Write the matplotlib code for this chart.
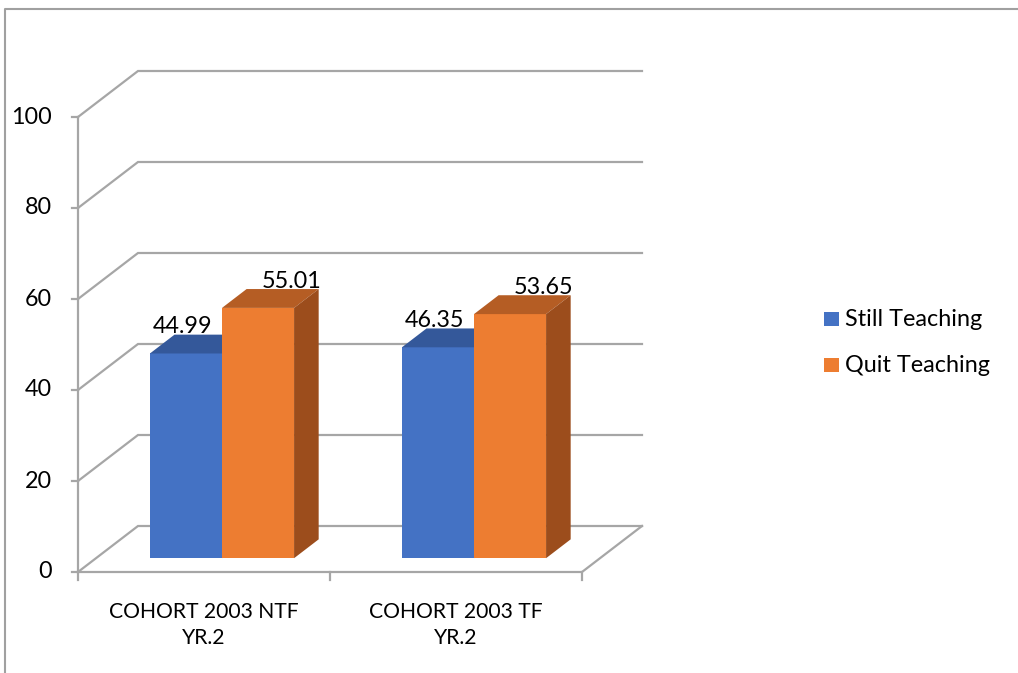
import matplotlib.pyplot as plt
from matplotlib.patches import Polygon, Rectangle

# data
categories = ['COHORT 2003 NTF\nYR.2', 'COHORT 2003 TF\nYR.2']
series = ['Still Teaching', 'Quit Teaching']
values = [[44.99, 46.35],   # Still Teaching
          [55.01, 53.65]]   # Quit Teaching
yticks = [0, 20, 40, 60, 80, 100]

front = ['#4472C4', '#ED7D31']
top = ['#34589A', '#B55D24']
side = ['#2E4F8A', '#9C4D1C']
grid_c = '#A6A6A6'

plt.rcParams['font.family'] = ['Lato', 'DejaVu Sans']
FS = 16.8

fig = plt.figure(figsize=(10.18, 6.73), dpi=100)
ax = fig.add_axes([0, 0, 1, 1])
# 1 category = 252 px, 1 value unit = 4.55 px, origin at pixel (78, 572)
ax.set_xlim(-78 / 252, (1018 - 78) / 252)
ax.set_ylim(-(673 - 572) / 4.55, 572 / 4.55)
ax.axis('off')

DX, DY = 60 / 252, 46 / 4.55     # full depth offset
d0, d1 = 0.30, 0.71              # bar depth range (fraction)
bw = 0.286                       # bar width

def pt(x, v, d):
    return (x + d * DX, v + d * DY)

# walls and floor
n = len(categories)
for v in yticks:
    ax.plot(*zip(pt(0, v, 0), pt(0, v, 1), pt(n, v, 1)), color=grid_c, lw=1.6,
            solid_joinstyle='miter')
ax.plot(*zip(pt(0, 0, 0), pt(n, 0, 0), pt(n, 0, 1)), color=grid_c, lw=1.6,
        solid_joinstyle='miter')
ax.plot([0, 0], [0, 100], color=grid_c, lw=1.6)
for v in yticks:
    ax.plot([-6 / 252, 0], [v, v], color=grid_c, lw=1.6)
    ax.text(-26 / 252, v, str(v), ha='right', va='center', fontsize=FS)
for i in range(n + 1):
    ax.plot([i, i], [0, -8 / 4.55], color=grid_c, lw=1.6)
for i, lab in enumerate(categories):
    ax.text(i + 0.5, -53 / 4.55, lab, ha='center', va='center', fontsize=15.2,
            linespacing=1.4)

# bars
for i in range(n):
    for j in range(len(series)):
        v = values[j][i]
        x0 = i + 0.5 - bw + j * bw
        x1 = x0 + bw
        ax.add_patch(Polygon([pt(x0, 0, d0), pt(x1, 0, d0), pt(x1, v, d0), pt(x0, v, d0)],
                             closed=True, fc=front[j], ec='none', zorder=3))
        ax.add_patch(Polygon([pt(x0, v, d0), pt(x1, v, d0), pt(x1, v, d1), pt(x0, v, d1)],
                             closed=True, fc=top[j], ec='none', zorder=3))
        ax.add_patch(Polygon([pt(x1, 0, d0), pt(x1, 0, d1), pt(x1, v, d1), pt(x1, v, d0)],
                             closed=True, fc=side[j], ec='none', zorder=3))
        lx = (x0 + x1) / 2 + (9 / 252 if j == 1 else -28 / 252)
        ax.text(*pt(lx, v + 0.3, d1), f'{v:.2f}', ha='center', va='baseline',
                fontsize=FS, zorder=4)

# legend
for j, name in enumerate(series):
    yc = (572 - 319 - j * 46) / 4.55
    ax.add_patch(Rectangle(((824 - 78) / 252, yc - 7 / 4.55), 15 / 252, 14 / 4.55,
                           fc=front[j], ec='none'))
    ax.text((845 - 78) / 252, yc, name, ha='left', va='center', fontsize=FS)

# chart border
fig.add_artist(plt.Line2D([4.5 / 1018, 4.5 / 1018, 1], [0, 1 - 9 / 673, 1 - 9 / 673],
                          color='#A0A0A0', lw=1.5, transform=fig.transFigure))

fig.savefig('out.png', dpi=100)
